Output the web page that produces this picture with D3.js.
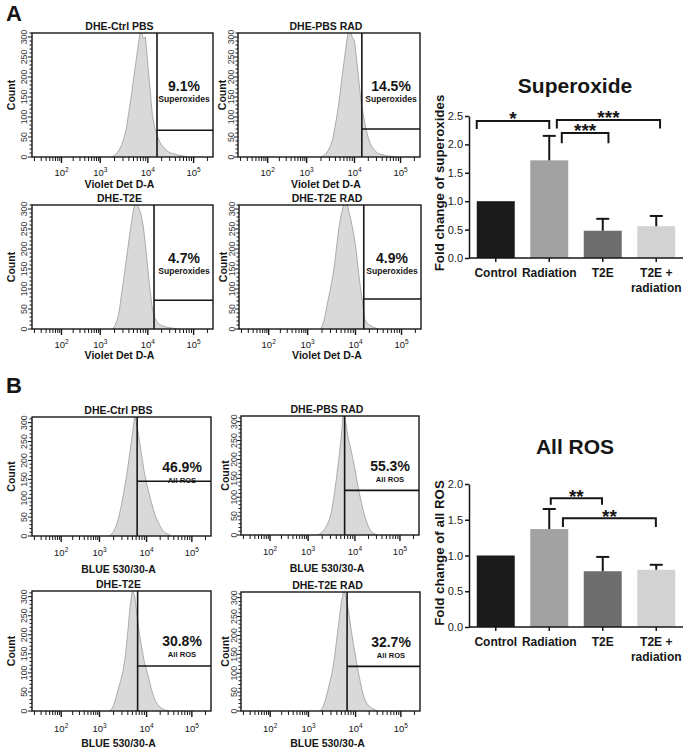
<!DOCTYPE html>
<html><head><meta charset="utf-8">
<script src="https://cdn.jsdelivr.net/npm/d3@7"></script>
<style>
body{margin:0;background:#fff}
svg{display:block;font-family:"Liberation Sans",Arial,Helvetica,sans-serif}
</style>
</head><body>
<svg id="c" width="689" height="750"></svg>
<script>
// ================= DATA =================
const histTitles   = ["DHE-Ctrl PBS","DHE-PBS RAD","DHE-T2E","DHE-T2E RAD","DHE-Ctrl PBS","DHE-PBS RAD","DHE-T2E","DHE-T2E RAD"];
const histPercents = ["9.1%","14.5%","4.7%","4.9%","46.9%","55.3%","30.8%","32.7%"];
const gateNames    = ["Superoxides","All ROS"];
const xAxisTitles  = ["Violet Det D-A","BLUE 530/30-A"];
const countTicks   = [0,50,100,150,200,250,300];
const decadeTicks  = [2,3,4,5];

// histogram bins: log10 intensity start, step 0.05 decade; counts per bin
const histBinStep  = 0.05;
const histStartLog = [3.25,3.30,3.25,3.25,3.20,3.20,3.20,3.25];
const histA1 = [0,4,10,18,30,48,72,112,150,196,238,282,322,296,300,232,168,104,72,56,40,30,24,18,13,10,8,7,5,4,3,2,0];
const histA2 = [0,3,8,16,28,48,80,115,160,210,255,300,330,300,290,240,185,130,100,70,48,32,22,15,10,7,6,4,3,2,2,1,0];
const histA3 = [0,6,20,45,90,130,175,220,262,300,322,305,290,260,210,150,95,50,28,18,12,9,7,5,4,3,2,1,0];
const histA4 = [0,5,25,55,85,115,150,200,250,285,310,328,300,275,245,210,160,110,70,25,14,10,7,4,2,0];
const histB1 = [0,4,12,25,45,72,105,140,180,225,270,320,290,250,210,170,140,115,92,70,52,38,26,16,10,6,3,0];
const histB2 = [0,3,8,15,25,40,62,100,145,195,250,322,300,260,235,205,175,140,110,82,58,38,22,12,6,2,0];
const histB3 = [0,3,15,35,58,80,105,145,205,275,318,300,250,200,165,130,108,85,60,40,25,16,10,6,3,1,0];
const histB4 = [0,8,25,48,75,100,140,190,240,290,320,300,265,220,180,145,110,80,52,32,20,12,8,5,2,0];
const histCounts = [histA1,histA2,histA3,histA4,histB1,histB2,histB3,histB4];
const gateLog   = [4.20,4.16,4.135,4.18,3.80,3.78,3.81,3.82];
const gateCount = [67,70,72,75,145,118,118,118];

const categories     = ["Control","Radiation","T2E","T2E + radiation"];
const superoxideMean = [1.00,1.72,0.48,0.56];
const superoxideErr  = [0,0.43,0.21,0.18];
const rosMean        = [1.00,1.37,0.78,0.80];
const rosErr         = [0,0.28,0.20,0.07];
const superoxideTicks = [0,0.5,1.0,1.5,2.0,2.5];
const rosTicks        = [0,0.5,1.0,1.5,2.0];
const barColors = ["#1b1b1b","#a2a2a2","#6e6e6e","#d2d2d2"];
// significance brackets: from category, to category, bracket level, leg end level, label
const supSigFrom  = [0,1,1];
const supSigTo    = [1,3,2];
const supSigLevel = [2.41,2.43,2.20];
const supSigLeg   = [2.27,2.28,2.02];
const supSigLabel = ["*","***","***"];
const rosSigFrom  = [1,1];
const rosSigTo    = [2,3];
const rosSigLevel = [1.80,1.52];
const rosSigLeg   = [1.71,1.40];
const rosSigLabel = ["**","**"];

// ================= LAYOUT =================
const svg = d3.select("#c");
const ink = "#161616";
const decadeFrac = [0.163,0.377,0.640,0.893];
const histLayout = [
  {x0:32, x1:213,y0:33, y1:157,grp:0,col:0,titleDy:31,tickDy:19},
  {x0:238,x1:420,y0:33, y1:157,grp:0,col:1,titleDy:31,tickDy:19},
  {x0:32, x1:213,y0:205,y1:329,grp:0,col:0,titleDy:30,tickDy:19},
  {x0:239,x1:421,y0:205,y1:329,grp:0,col:1,titleDy:30,tickDy:19},
  {x0:32, x1:211,y0:417,y1:536,grp:1,col:0,titleDy:37,tickDy:20},
  {x0:241,x1:419,y0:416,y1:535,grp:1,col:1,titleDy:37,tickDy:20},
  {x0:32, x1:211,y0:591,y1:711,grp:1,col:0,titleDy:36,tickDy:21},
  {x0:241,x1:420,y0:592,y1:711,grp:1,col:1,titleDy:36,tickDy:21}
];
const sigFrac = {sup:[[0,0.5],[0.7,0.6],[0.83,0.65]], ros:[[0.54,0.48],[0.86,0.49]]};

// panel letters
svg.append("text").attr("x",6).attr("y",21).attr("font-size",22).attr("font-weight","bold").attr("fill",ink).text("A");
svg.append("text").attr("x",6).attr("y",393).attr("font-size",22).attr("font-weight","bold").attr("fill",ink).text("B");

const defs = svg.append("defs");

function drawHist(i){
  const L = histLayout[i];
  const W = L.x1-L.x0, H = L.y1-L.y0;
  const x = d3.scaleLinear().domain(decadeTicks).range(decadeFrac.map(f=>L.x0+f*W));
  const yMax = L.grp===0 ? 310 : 315;
  const y = d3.scaleLinear().domain([0,yMax]).range([L.y1,L.y0]);
  const g = svg.append("g");
  defs.append("clipPath").attr("id","clip"+i).append("rect")
    .attr("x",L.x0).attr("y",L.y0).attr("width",W).attr("height",H);

  const pts = histCounts[i].map((c,k)=>[histStartLog[i]+k*histBinStep,c]);
  g.append("path").datum(pts).attr("clip-path",`url(#clip${i})`)
    .attr("d",d3.area().x(d=>x(d[0])).y0(L.y1).y1(d=>y(d[1])))
    .attr("fill","#d9d9d9");
  g.append("path").datum(pts).attr("clip-path",`url(#clip${i})`)
    .attr("d",d3.line().x(d=>x(d[0])).y(d=>y(d[1])))
    .attr("fill","none").attr("stroke","#9c9c9c").attr("stroke-width",0.8);

  // gate
  const gx = x(gateLog[i]), gy = y(gateCount[i]);
  g.append("line").attr("x1",gx).attr("x2",gx).attr("y1",L.y0).attr("y2",L.y1).attr("stroke",ink).attr("stroke-width",1.6);
  g.append("line").attr("x1",gx).attr("x2",L.x1).attr("y1",gy).attr("y2",gy).attr("stroke",ink).attr("stroke-width",1.6);

  // box
  g.append("rect").attr("x",L.x0).attr("y",L.y0).attr("width",W).attr("height",H)
    .attr("fill","none").attr("stroke",ink).attr("stroke-width",1.4);

  // x ticks (log)
  for(let d=1; d<=5; d++){
    for(let k=1; k<=9; k++){
      const v = d + Math.log10(k);
      const px = x(v);
      if(px < L.x0+1 || px > L.x1-1) continue;
      const major = (k===1);
      g.append("line").attr("x1",px).attr("x2",px).attr("y1",L.y1).attr("y2",L.y1+(major?6:4))
        .attr("stroke",ink).attr("stroke-width",major?1.4:1);
    }
  }
  decadeTicks.forEach(d=>{
    const t = g.append("text").attr("x",x(d)).attr("y",L.y1+L.tickDy).attr("text-anchor","middle")
      .attr("font-size",9.5).attr("fill",ink);
    t.append("tspan").text("10");
    t.append("tspan").attr("dy",-4).attr("font-size",6.5).text(d);
  });
  g.append("text").attr("x",(L.x0+L.x1)/2-3).attr("y",L.y1+L.titleDy).attr("text-anchor","middle")
    .attr("font-size",10.5).attr("font-weight","bold").attr("fill",ink).text(xAxisTitles[L.grp]);

  // y ticks
  for(let v=0; v<=yMax; v+=10){
    const major = v%50===0 && v<=300;
    g.append("line").attr("x1",L.x0).attr("x2",L.x0-(major?4:2.5)).attr("y1",y(v)).attr("y2",y(v))
      .attr("stroke",ink).attr("stroke-width",1);
  }
  const labOff = L.col===0 ? 5 : 4.5;
  countTicks.forEach(v=>{
    g.append("text").attr("transform",`translate(${L.x0-labOff},${y(v)}) rotate(-90)`)
      .attr("text-anchor","middle").attr("font-size",8.8).attr("fill","#333").text(v);
  });
  const cntOff = L.col===0 ? 17 : 12.5;
  g.append("text").attr("transform",`translate(${L.x0-cntOff},${(L.y0+L.y1)/2}) rotate(-90)`)
    .attr("text-anchor","middle").attr("font-size",10.5).attr("font-weight","bold").attr("fill",ink).text("Count");

  // title
  g.append("text").attr("x",(L.x0+L.x1)/2-3).attr("y",L.y0-3).attr("text-anchor","middle")
    .attr("font-size",10.5).attr("font-weight","bold").attr("fill",ink).text(histTitles[i]);

  // gate labels
  const cx = L.x1-29;
  g.append("text").attr("x",cx).attr("y",L.y0+(L.grp===0?58:55)).attr("text-anchor","middle")
    .attr("font-size",14).attr("font-weight","bold").attr("fill",ink).text(histPercents[i]);
  g.append("text").attr("x",cx).attr("y",L.y0+(L.grp===0?69:66)).attr("text-anchor","middle")
    .attr("font-size",L.grp===0?8.6:7.6).attr("font-weight","bold").attr("fill",ink).text(gateNames[L.grp]);
}
for(let i=0;i<8;i++) drawHist(i);

function drawBars(o){
  const g = svg.append("g");
  const x = d3.scaleBand().domain(categories).range([469,683]).paddingInner(0.29).paddingOuter(0.145);
  const y = d3.scaleLinear().domain([0,o.max]).range([o.yBase,o.yTop]);

  g.selectAll("rect.bar").data(o.mean).enter().append("rect")
    .attr("x",(d,i)=>x(categories[i])).attr("width",x.bandwidth())
    .attr("y",d=>y(d)).attr("height",d=>o.yBase-y(d))
    .attr("fill",(d,i)=>barColors[i]);

  // error bars
  o.mean.forEach((m,i)=>{
    if(!o.err[i]) return;
    const cx = x(categories[i])+x.bandwidth()/2;
    g.append("line").attr("x1",cx).attr("x2",cx).attr("y1",y(m)).attr("y2",y(m+o.err[i])).attr("stroke",ink).attr("stroke-width",2);
    g.append("line").attr("x1",cx-6.5).attr("x2",cx+6.5).attr("y1",y(m+o.err[i])).attr("y2",y(m+o.err[i])).attr("stroke",ink).attr("stroke-width",2);
  });

  // y axis
  const ya = g.append("g").attr("transform","translate(469,0)")
    .call(d3.axisLeft(y).tickValues(o.ticks).tickFormat(d3.format(".1f")).tickSize(4).tickSizeOuter(0).tickPadding(2));
  ya.select(".domain").attr("stroke",ink).attr("stroke-width",1.5);
  ya.selectAll(".tick line").attr("stroke",ink).attr("stroke-width",1.5);
  ya.selectAll(".tick text").attr("font-size",11).attr("fill","#222").attr("font-family",'"Liberation Sans",Arial,sans-serif');

  // x axis
  g.append("line").attr("x1",469).attr("x2",683).attr("y1",o.yBase).attr("y2",o.yBase).attr("stroke",ink).attr("stroke-width",1.5);
  categories.forEach((c,i)=>{
    const cx = x(c)+x.bandwidth()/2;
    g.append("line").attr("x1",cx).attr("x2",cx).attr("y1",o.yBase).attr("y2",o.yBase+4).attr("stroke",ink).attr("stroke-width",1.5);
    const lines = c.replace("+ ","+\n").split("\n");
    lines.forEach((s,k)=>{
      g.append("text").attr("x",cx).attr("y",o.yBase+19+k*15).attr("text-anchor","middle")
        .attr("font-size",12).attr("font-weight","bold").attr("fill",ink).text(s);
    });
  });

  // y title
  g.append("text").attr("transform",`translate(444,${o.titleY}) rotate(-90)`).attr("text-anchor","middle")
    .attr("font-size",13.3).attr("font-weight","bold").attr("fill",ink).text(o.yTitle);
  // chart title
  g.append("text").attr("x",575).attr("y",o.headY).attr("text-anchor","middle")
    .attr("font-size",21).attr("font-weight","bold").attr("fill",ink).text(o.head);

  // significance
  o.sigFrom.forEach((f,j)=>{
    const fr = o.frac[j];
    const xa = x(categories[f]) + fr[0]*x.bandwidth();
    const xb = x(categories[o.sigTo[j]]) + fr[1]*x.bandwidth();
    const yl = y(o.sigLevel[j]), yg = y(o.sigLeg[j]);
    g.append("path").attr("d",`M${xa},${yg}V${yl}H${xb}V${yg}`).attr("fill","none")
      .attr("stroke",ink).attr("stroke-width",2);
    g.append("text").attr("x",(xa+xb)/2).attr("y",yl+o.starDy).attr("text-anchor","middle")
      .attr("font-size",19).attr("font-weight","bold").attr("fill",ink).text(o.sigLabel[j]);
  });
}

drawBars({mean:superoxideMean,err:superoxideErr,ticks:superoxideTicks,max:2.5,yBase:258,yTop:116,
  yTitle:"Fold change of superoxides",titleY:183,head:"Superoxide",headY:93,
  sigFrom:supSigFrom,sigTo:supSigTo,sigLevel:supSigLevel,sigLeg:supSigLeg,sigLabel:supSigLabel,frac:sigFrac.sup,starDy:4});
drawBars({mean:rosMean,err:rosErr,ticks:rosTicks,max:2.0,yBase:627,yTop:484,
  yTitle:"Fold change of all ROS",titleY:553,head:"All ROS",headY:454,
  sigFrom:rosSigFrom,sigTo:rosSigTo,sigLevel:rosSigLevel,sigLeg:rosSigLeg,sigLabel:rosSigLabel,frac:sigFrac.ros,starDy:5});
</script>
</body></html>
